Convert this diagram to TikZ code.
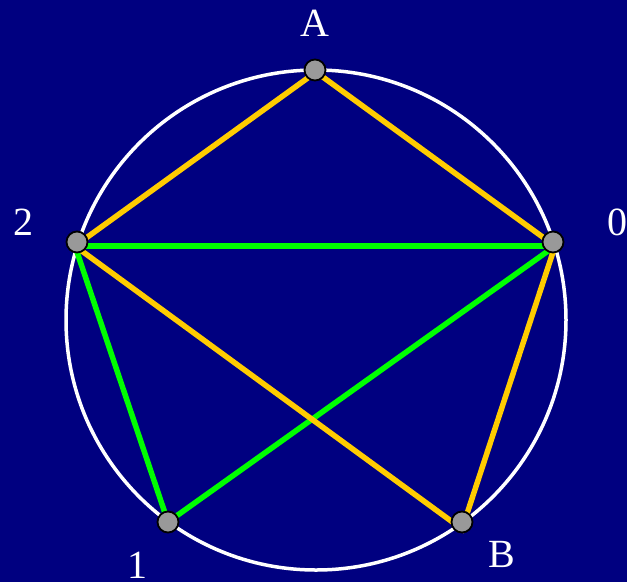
\documentclass[tikz,border=0pt]{standalone}
\usepackage{fontspec}
\setmainfont{Liberation Serif}
\definecolor{bgnavy}{HTML}{000080}
\definecolor{ygold}{HTML}{FFCC00}
\definecolor{lgreen}{HTML}{00FF00}
\definecolor{dotgray}{HTML}{999999}
\begin{document}
\begin{tikzpicture}[x=1pt,y=-1pt,
  lbl/.style={text=white,font=\fontsize{40}{44}\selectfont,inner sep=0pt},
  yline/.style={draw=ygold,line width=5.5pt,line join=miter},
  gline/.style={draw=lgreen,line width=5.5pt},
  dot/.style={circle,fill=dotgray,draw=black,line width=1.8pt,minimum size=21pt,inner sep=0pt}]
\fill[bgnavy] (0,0) rectangle (627,582);
\useasboundingbox (0,0) rectangle (627,582);
\node[draw=white,line width=3.5pt,circle,minimum size=500pt,inner sep=0pt] (circ) at (316,320) {};
% line end points
\coordinate (eA) at (316,72);
\coordinate (e0) at (555,246);
\coordinate (e2) at (75,246);
\coordinate (e1) at (168,522);
\coordinate (eB) at (462,529);
% green lines
\draw[gline] (e2) -- (e0);
\draw[gline] (e2) -- (e1);
\draw[gline] (e1) -- (e0);
% yellow lines
\draw[yline] (e2) -- (eA) -- (e0) -- (eB) -- cycle;
% dots
\node[dot] (dA) at (315,70) {};
\node[dot] (d0) at (553,242) {};
\node[dot] (d2) at (77,242) {};
\node[dot] (d1) at (168,522) {};
\node[dot] (dB) at (462,522) {};
% labels
\node[lbl] (lA) at (315,23) {A};
\node[lbl] (l2) at (23,222) {2};
\node[lbl] (l0) at (617,222) {0};
\node[lbl] (l1) at (137,565) {1};
\node[lbl] (lB) at (502,554) {B};
\end{tikzpicture}
\end{document}
